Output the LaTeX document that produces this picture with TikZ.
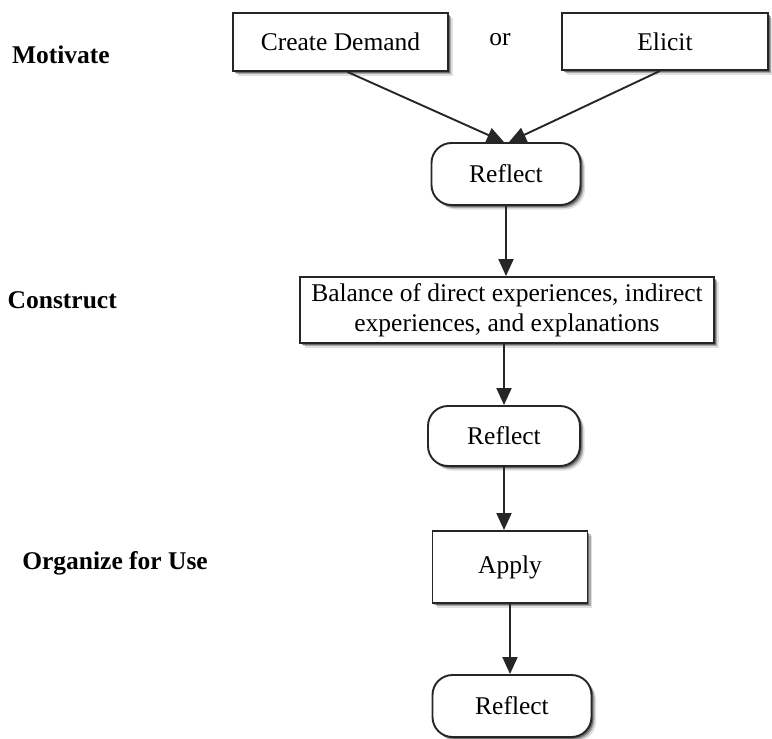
\documentclass[tikz,border=0pt]{standalone}
\usepackage{fontspec}
\setmainfont{Liberation Serif}
\usetikzlibrary{shadows,arrows.meta}
\begin{document}
\begin{tikzpicture}[x=1pt,y=-1pt,
  every node/.style={font=\fontsize{25.5}{30}\selectfont},
  boxshadow/.style={
    drop shadow={shadow xshift=4.5pt,shadow yshift=-4.5pt,fill=black,opacity=0.12},
    drop shadow={shadow xshift=3pt,shadow yshift=-3pt,fill=black,opacity=0.25},
    drop shadow={shadow xshift=1.8pt,shadow yshift=-1.8pt,fill=black,opacity=0.35}},
  boxnode/.style={draw=black!85,line width=1.9pt,fill=white,boxshadow,inner sep=0pt,align=center},
  roundnode/.style={boxnode,rounded corners=20pt},
  phase/.style={font=\fontsize{25.5}{30}\selectfont\bfseries,anchor=base east,inner sep=0pt},
  flow/.style={draw=black!85,line width=1.9pt,-{Triangle[length=17pt,width=15pt]}}]
\useasboundingbox (0,0) rectangle (772,739);

% motivate row
\node[boxnode,minimum width=215pt,minimum height=58pt] (demand) at (340.5,42) {Create Demand};
\node[inner sep=0pt] (or) at (500,40) {or};
\node[boxnode,minimum width=206pt,minimum height=57pt] (elicit) at (665,41.5) {Elicit};
\node[roundnode,minimum width=149pt,minimum height=62pt] (reflectA) at (506,174) {Reflect};

% construct row
\node[boxnode,minimum width=414pt,minimum height=66pt] (balance) at (507,310)
  {Balance of direct experiences, indirect\\experiences, and explanations};
\node[roundnode,minimum width=152pt,minimum height=60pt] (reflectB) at (504,436) {Reflect};

% organize row
\node[boxnode,minimum width=155pt,minimum height=72pt] (apply) at (510,567) {Apply};
\node[roundnode,minimum width=159pt,minimum height=62pt] (reflectC) at (512,706) {Reflect};

% phase labels
\node[phase] (motivate) at (110,63) {Motivate};
\node[phase] (construct) at (117,308) {Construct};
\node[phase] (organize) at (208,569) {Organize for Use};

% connectors
\draw[flow] ([xshift=7pt]demand.south) -- ([xshift=-2pt]reflectA.north);
\draw[flow] ([xshift=-5pt]elicit.south) -- ([xshift=3pt]reflectA.north);
\draw[flow] (reflectA.south) -- (reflectA.south |- balance.north);
\draw[flow] (balance.south -| reflectB.north) -- (reflectB.north);
\draw[flow] (reflectB.south) -- (reflectB.south |- apply.north);
\draw[flow] (apply.south) -- (apply.south |- reflectC.north);
\end{tikzpicture}
\end{document}
